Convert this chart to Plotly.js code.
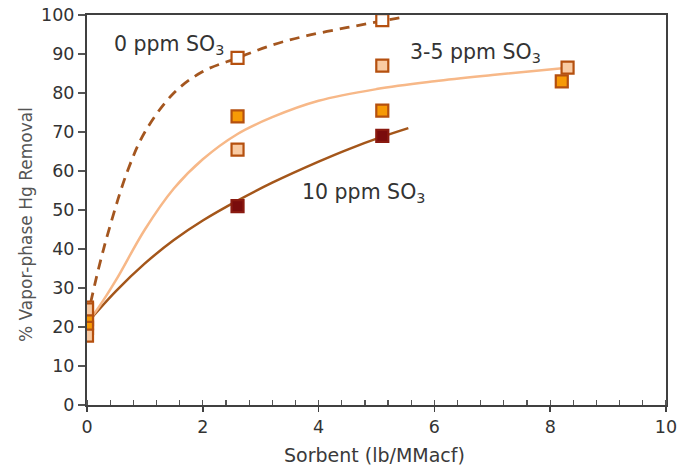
<!DOCTYPE html>
<html><head><meta charset="utf-8">
<script src="https://cdn.plot.ly/plotly-3.0.1.min.js"></script>
<style>body{margin:0;background:#fff}#c{width:681px;height:467px}</style>
</head><body><div id="c"></div>
<script>
// fitted curves
const curve0X = [0, 0.2, 0.4, 0.7, 1.0, 1.5, 2.0, 2.6, 3.2, 3.8, 4.5, 5.1, 5.45];
const curve0Y = [22, 35, 46, 60, 70, 80, 85.5, 89, 92.3, 94.7, 96.8, 98.5, 99.4];
const curve35X = [0, 0.2, 0.5, 1.0, 1.5, 2.0, 2.6, 3.2, 4.0, 5.0, 6.0, 7.0, 8.3];
const curve35Y = [21, 25, 32, 45, 55.5, 63, 69.5, 73.8, 78, 81, 83, 84.6, 86.5];
const curve10X = [0, 0.5, 1.0, 1.5, 2.0, 2.6, 3.2, 4.0, 4.5, 5.1, 5.55];
const curve10Y = [21, 29.2, 36.3, 42.3, 47.3, 52.4, 57, 62.4, 65.5, 68.8, 71];
// measured points
const pts0X = [0, 2.6, 5.1];
const pts0Y = [25, 89, 98.7];
const pts35lightX = [0, 0, 2.6, 5.1, 8.3];
const pts35lightY = [24.5, 17.8, 65.5, 87, 86.5];
const pts35orangeX = [0, 0, 2.6, 5.1, 8.2];
const pts35orangeY = [22, 19.8, 74, 75.5, 83];
const pts10X = [0, 2.6, 5.1];
const pts10Y = [21, 51, 69];
const labels = ["0 ppm SO<sub>3</sub>", "3-5 ppm SO<sub>3</sub>", "10 ppm SO<sub>3</sub>"];
const labelX = [0.43, 5.54, 3.68];
const labelY = [92.3, 90.3, 54.4];
const xTitle = 'Sorbent (lb/MMacf)';
const yTitle = '% Vapor-phase Hg Removal';

const border = '#b5500f';
const mk = (fill, lc) => ({symbol:'square', size:12, color:fill, line:{color:lc||border, width:2.2}});
const traces = [
  {x:curve10X, y:curve10Y, mode:'lines', line:{color:'#a4561a', width:2.5, shape:'spline'}},
  {x:curve35X, y:curve35Y, mode:'lines', line:{color:'#f7b888', width:2.5, shape:'spline'}},
  {x:curve0X, y:curve0Y, mode:'lines', line:{color:'#a4561f', width:2.8, dash:'10px,7px', shape:'spline'}},
  {x:pts10X, y:pts10Y, mode:'markers', marker:mk('#7a0c0c', '#8a1a10')},
  {x:pts0X, y:pts0Y, mode:'markers', marker:mk('#ffffff')},
  {x:pts35orangeX, y:pts35orangeY, mode:'markers', marker:mk('#f79a06')},
  {x:pts35lightX, y:pts35lightY, mode:'markers', marker:mk('#f9cba3')}
];
const fontF = '"DejaVu Sans", Verdana, sans-serif';
const annots = labels.map((t,i)=>({text:t, x:labelX[i], y:labelY[i], xref:'x', yref:'y',
    xanchor:'left', yanchor:'middle', showarrow:false, font:{size:20.5, color:'#333', family:fontF}}));
annots.push({text:xTitle, xref:'paper', yref:'paper', x:0.4957, y:-0.128, xanchor:'center', yanchor:'middle',
  showarrow:false, font:{size:19, color:'#3a3a3a', family:fontF}});
annots.push({text:yTitle, xref:'paper', yref:'paper', x:-0.1054, y:0.464, xanchor:'center', yanchor:'middle',
  textangle:-90, showarrow:false, font:{size:17, color:'#555', family:fontF}});
const layout = {
  width:681, height:467, showlegend:false,
  margin:{l:87, r:15, t:15, b:62},
  paper_bgcolor:'#fff', plot_bgcolor:'#fff',
  font:{family:fontF, color:'#333', size:17},
  xaxis:{range:[0,10], tickvals:[0,2,4,6,8,10], showgrid:false, zeroline:false,
    showline:true, linecolor:'#404040', linewidth:2, mirror:true,
    ticks:'outside', ticklen:5, tickcolor:'#404040', tickwidth:1.5,
    minor:{dtick:0.4, ticks:'inside', ticklen:5, tickcolor:'#555', tickwidth:1.2},
    tickfont:{size:17.5, color:'#333'}},
  yaxis:{range:[0,100], dtick:10, showgrid:false, zeroline:false,
    showline:true, linecolor:'#404040', linewidth:2, mirror:true,
    ticks:'outside', ticklen:7, tickcolor:'#555', tickwidth:1.2,
    tickfont:{size:17.5, color:'#333'}},
  annotations: annots
};
Plotly.newPlot('c', traces, layout, {displayModeBar:false, staticPlot:true});
</script></body></html>
